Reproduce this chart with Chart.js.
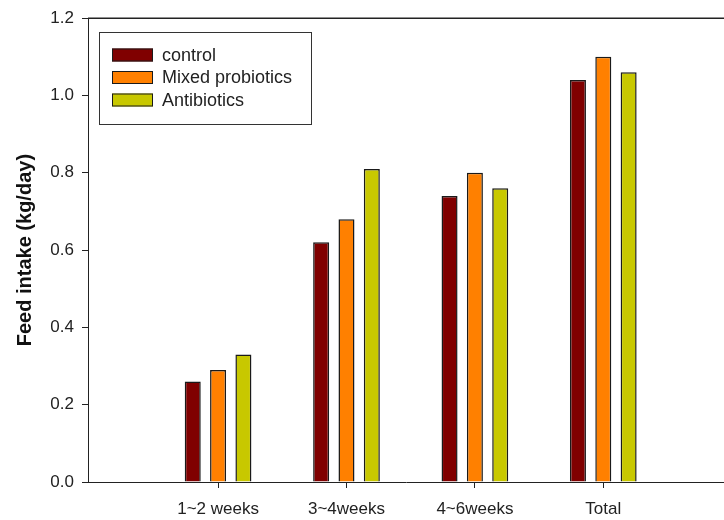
<!DOCTYPE html>
<html>
<head>
<meta charset="utf-8">
<script src="https://cdn.jsdelivr.net/npm/chart.js@4/dist/chart.umd.min.js"></script>
<style>
    html, body { margin: 0; padding: 0; background: #fff; }
    #box { width: 724px; height: 520px; }
</style>
</head>
<body>
<div id="box"><canvas id="grafico1"></canvas></div>
<script>
const categorias = ['1~2 weeks', '3~4weeks', '4~6weeks', 'Total'];
const controle = [0.26, 0.62, 0.74, 1.04];
const probioticos = [0.29, 0.68, 0.80, 1.10];
const antibioticos = [0.33, 0.81, 0.76, 1.06];
const yTicks = [0, 0.2, 0.4, 0.6, 0.8, 1.0, 1.2];

const fonte = 'Arial, "Liberation Sans", sans-serif';
const corTexto = '#222';
const corBorda = '#1a1a1a';

// posicao x de cada grupo = 1, 2, 3, 4 (eixo linear, com espaco vazio a esquerda)
function pontos(valores) {
    return valores.map(function (v, i) {
        return { x: i + 1, y: v };
    });
}

// legenda desenhada dentro da area do grafico
const legendaInterna = {
    id: 'legendaInterna',
    afterDraw: function (chart) {
        const ctx = chart.ctx;
        const area = chart.chartArea;

        // linha de cima da moldura
        ctx.save();
        ctx.strokeStyle = corTexto;
        ctx.lineWidth = 1.5;
        ctx.beginPath();
        ctx.moveTo(area.left, area.top);
        ctx.lineTo(area.right, area.top);
        ctx.stroke();

        const x0 = 99.5, y0 = 32.5, w = 212, h = 92;
        ctx.lineWidth = 1;
        ctx.strokeStyle = '#333';
        ctx.strokeRect(x0, y0, w, h);

        ctx.font = '18px ' + fonte;
        ctx.textBaseline = 'middle';
        chart.data.datasets.forEach(function (ds, i) {
            const cy = 55 + i * 22.5;
            ctx.fillStyle = ds.backgroundColor;
            ctx.fillRect(112, cy - 6.5, 41, 13);
            ctx.strokeStyle = corBorda;
            ctx.strokeRect(112.5, cy - 6, 40, 12);
            ctx.fillStyle = corTexto;
            ctx.fillText(ds.label, 162, cy + 1);
        });
        ctx.restore();
    }
};

const ctx = document.getElementById('grafico1').getContext('2d');
const grafico = new Chart(ctx, {
    type: 'bar',
    data: {
        datasets: [
            { label: 'control', data: pontos(controle), backgroundColor: '#800000' },
            { label: 'Mixed probiotics', data: pontos(probioticos), backgroundColor: '#ff8000' },
            { label: 'Antibiotics', data: pontos(antibioticos), backgroundColor: '#c8c800' }
        ]
    },
    options: {
        responsive: true,
        maintainAspectRatio: false,
        animation: false,
        layout: { padding: { top: 16, right: 0, left: 0, bottom: 0 } },
        datasets: {
            bar: {
                borderColor: corBorda,
                borderWidth: 1.5,
                categoryPercentage: 0.592,
                barPercentage: 0.632
            }
        },
        plugins: {
            legend: { display: false },
            tooltip: { enabled: false }
        },
        scales: {
            x: {
                type: 'linear',
                offset: false,
                min: -0.013,
                max: 4.94,
                afterBuildTicks: function (axis) {
                    axis.ticks = categorias.map(function (c, i) {
                        return { value: i + 1 };
                    });
                },
                afterFit: function (axis) {
                    axis.height = 38;
                },
                ticks: {
                    autoSkip: false,
                    maxRotation: 0,
                    padding: 11,
                    color: corTexto,
                    font: { family: fonte, size: 17 },
                    callback: function (value) {
                        return categorias[value - 1];
                    }
                },
                grid: { offset: false, drawOnChartArea: false, tickLength: 6, color: corTexto },
                border: { color: corTexto, width: 1 }
            },
            y: {
                min: 0,
                max: 1.2,
                afterBuildTicks: function (axis) {
                    axis.ticks = yTicks.map(function (v) {
                        return { value: v };
                    });
                },
                afterFit: function (axis) {
                    axis.width = 88;
                },
                ticks: {
                    padding: 8,
                    color: corTexto,
                    font: { family: fonte, size: 17 },
                    callback: function (value) {
                        return value.toFixed(1);
                    }
                },
                title: {
                    display: true,
                    text: 'Feed intake (kg/day)',
                    color: '#111',
                    font: { family: fonte, size: 20, weight: 'bold' },
                    padding: { top: 13, bottom: 0 }
                },
                grid: { drawOnChartArea: false, tickLength: 6, color: corTexto },
                border: { color: corTexto, width: 1 }
            }
        }
    },
    plugins: [legendaInterna]
});
</script>
</body>
</html>
